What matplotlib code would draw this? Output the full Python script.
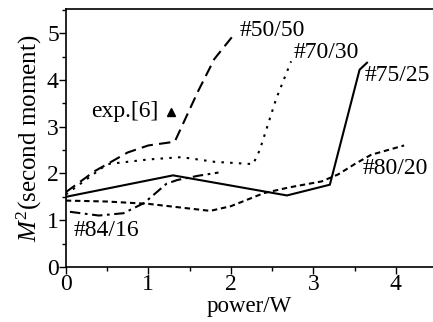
import matplotlib
matplotlib.use("Agg")
import matplotlib.pyplot as plt
from matplotlib.ticker import MultipleLocator

plt.rcParams['font.family'] = ['Liberation Serif', 'DejaVu Serif']
plt.rcParams['mathtext.fontset'] = 'custom'
plt.rcParams['mathtext.rm'] = 'Liberation Serif'
plt.rcParams['mathtext.it'] = 'Liberation Serif:italic'

# beam quality M^2 vs pump power
p_5050 = [0.0, 0.35, 0.75, 1.0, 1.32, 1.6, 1.8, 2.05]
m_5050 = [1.60, 2.05, 2.45, 2.60, 2.68, 3.75, 4.45, 5.00]

p_7030 = [0.0, 0.5, 1.0, 1.4, 1.8, 2.27, 2.35, 2.55, 2.73]
m_7030 = [1.55, 2.20, 2.30, 2.35, 2.25, 2.20, 2.50, 3.60, 4.40]

p_7525 = [0.0, 1.3, 2.68, 3.2, 3.56, 3.65]
m_7525 = [1.50, 1.96, 1.53, 1.76, 4.22, 4.37]

p_8020 = [0.0, 0.5, 1.0, 1.4, 1.75, 2.0, 2.4, 2.7, 3.1, 3.3, 3.5, 3.7, 4.1]
m_8020 = [1.42, 1.40, 1.35, 1.27, 1.20, 1.30, 1.58, 1.70, 1.83, 1.98, 2.20, 2.40, 2.60]

p_8416 = [0.05, 0.4, 0.7, 0.95, 1.22, 1.35, 1.6, 1.85]
m_8416 = [1.18, 1.10, 1.15, 1.37, 1.78, 1.86, 1.95, 2.02]

exp_p = [1.28]
exp_m = [3.32]

labels = ["#50/50", "#70/30", "#75/25", "#80/20", "#84/16"]
label_xy = [(2.11, 5.05), (2.76, 4.6), (3.62, 4.09), (3.6, 2.1), (0.09, 0.79)]

fig = plt.figure(figsize=(4.33, 3.22), dpi=100)
ax = fig.add_axes([0.152, 0.171, 0.848, 0.801])

lw = 1.5
ax.plot(p_5050, m_5050, color='black', lw=lw, dashes=(5.5, 3))
ax.plot(p_7030, m_7030, color='black', lw=lw, dashes=(1.2, 3))
ax.plot(p_7525, m_7525, color='black', lw=lw)
ax.plot(p_8020, m_8020, color='black', lw=lw, dashes=(2.6, 1.8))
ax.plot(p_8416, m_8416, color='black', lw=lw, dashes=(5, 2.2, 1.3, 2.2))
ax.plot(exp_p, exp_m, marker='^', color='black', ms=6, ls='none')
ax.text(0.31, 3.32, "exp.[6]", fontsize=17, va='center', ha='left')

for lab, (x, y) in zip(labels, label_xy):
    ax.text(x, y, lab, fontsize=17, va='center', ha='left')

ax.set_xlim(0, 4.45)
ax.set_ylim(0, 5.52)
ax.xaxis.set_major_locator(MultipleLocator(1))
ax.xaxis.set_minor_locator(MultipleLocator(0.5))
ax.yaxis.set_major_locator(MultipleLocator(1))
ax.yaxis.set_minor_locator(MultipleLocator(0.5))
ax.tick_params(which='major', length=5, width=1, labelsize=17, pad=0)
ax.tick_params(which='minor', length=3, width=1)
ax.spines['right'].set_visible(False)
for s in ['left', 'bottom', 'top']:
    ax.spines[s].set_linewidth(1.2)

ax.set_xlabel("power/W", fontsize=16.5, labelpad=1)
ax.set_ylabel(r"$M^2$(second moment)", fontsize=18, labelpad=2)

fig.savefig("out.png", dpi=100)
